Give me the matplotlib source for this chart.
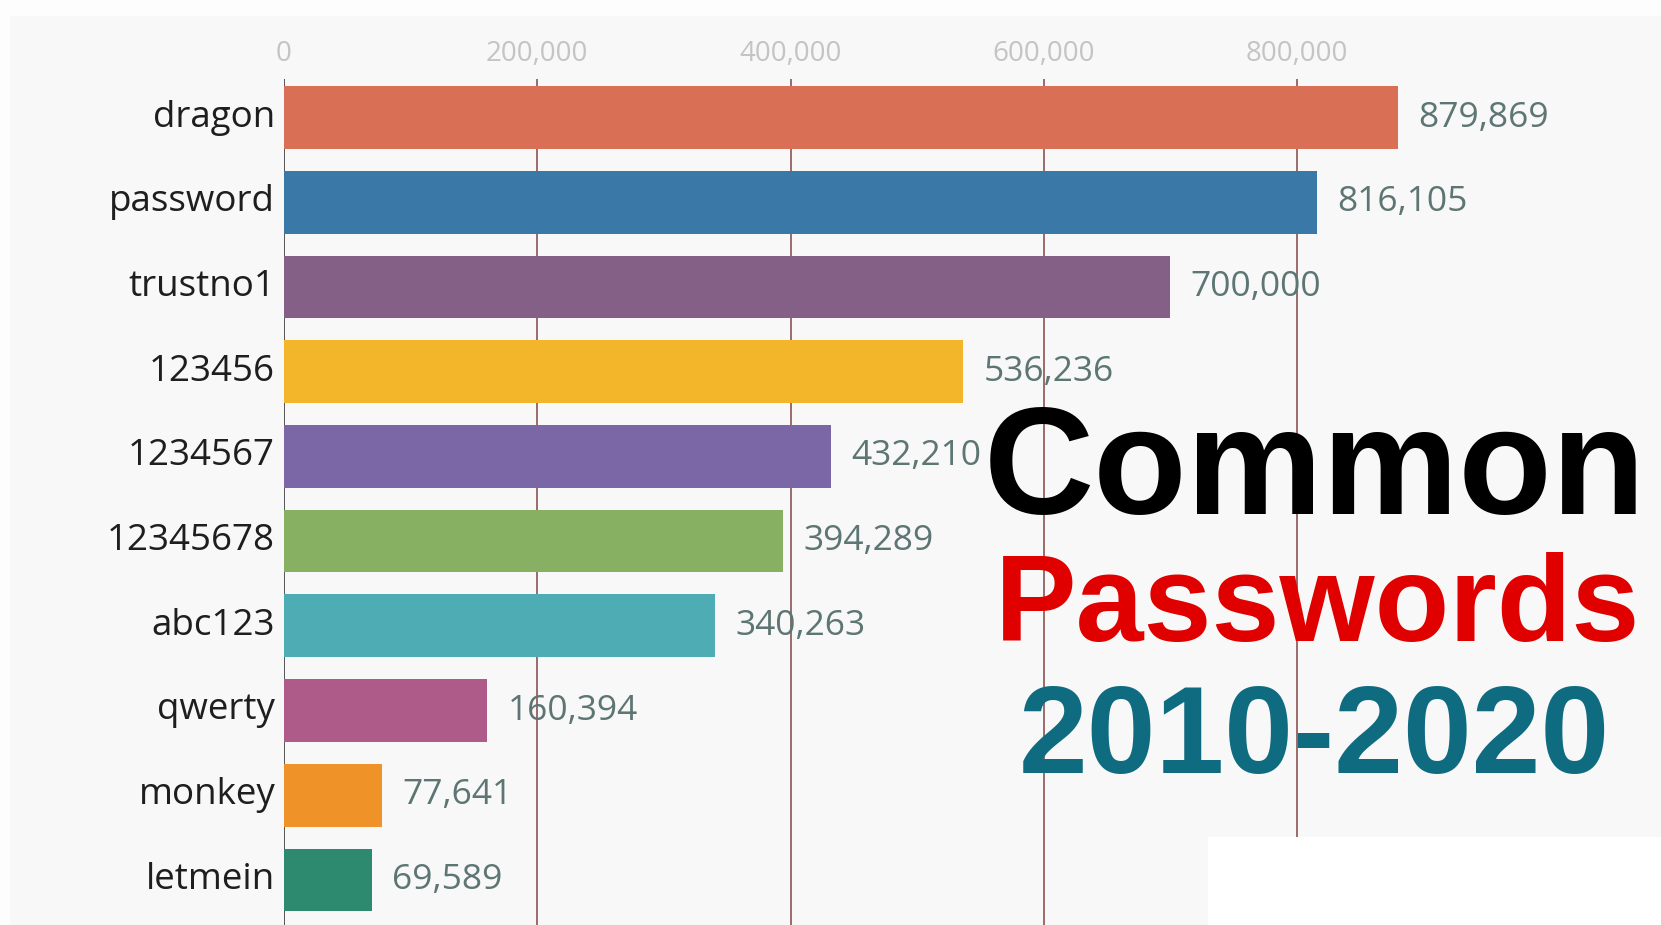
import matplotlib.pyplot as plt
from matplotlib.patches import Rectangle

# Data
passwords = ['dragon', 'password', 'trustno1', '123456', '1234567',
             '12345678', 'abc123', 'qwerty', 'monkey', 'letmein']
counts = [879869, 816105, 700000, 536236, 432210,
          394289, 340263, 160394, 77641, 69589]
bar_colors = ['#d96f55', '#3a78a8', '#845f86', '#f3b52a', '#7b66a6',
              '#88b062', '#4eacb5', '#ae5b8a', '#ef9328', '#2e8a6e']
tick_values = [0, 200000, 400000, 600000, 800000]

W, H = 1661, 925
fig = plt.figure(figsize=(W / 100, H / 100), dpi=100)
fig.patch.set_facecolor('#f8f8f8')

# faint lighter band at top and left edge
fig.patches.append(Rectangle((0, 1 - 16 / H), 1, 16 / H, transform=fig.transFigure,
                             facecolor='#fdfdfd', edgecolor='none', zorder=-1))
fig.patches.append(Rectangle((0, 0), 10 / W, 1, transform=fig.transFigure,
                             facecolor='#fdfdfd', edgecolor='none', zorder=-1))

# axes placed so that zero sits at x=284px and 800k at x=1297px
x0, px_per_unit = 284, (1297 - 284) / 800000
top_px, bot_px = 79, 925
ax = fig.add_axes([x0 / W, 1 - bot_px / H, (W - x0) / W, (bot_px - top_px) / H])
ax.set_facecolor('none')
ax.set_xlim(0, (W - x0) / px_per_unit)
row = 84.7
first = 117.6
ax.set_ylim((bot_px - first) / row, (top_px - first) / row)

for t in tick_values:
    if t == 0:
        ax.axvline(t, color='#555555', lw=1.4, zorder=1)
    else:
        ax.axvline(t, color='#9b6b6b', lw=1.4, zorder=1)
    ax.text(t, (54 - first) / row, f'{t:,}', ha='center', va='center',
            fontsize=20, color='#c4c4c4', family='Open Sans')

ypos = list(range(len(passwords)))
ax.barh(ypos, counts, height=0.74, color=bar_colors, zorder=2)

for y, name, v in zip(ypos, passwords, counts):
    ax.text(-7000, y, name, ha='right', va='center', fontsize=26.5,
            color='#1e1e1e', family='Open Sans')
    ax.text(v + 16000, y, f'{v:,}', ha='left', va='center', fontsize=25.5,
            color='#5d7573', family='Open Sans', zorder=3)

ax.set_xticks([])
ax.set_yticks([])
for s in ax.spines.values():
    s.set_visible(False)

# white block in the lower right corner
fig.patches.append(Rectangle((1208 / W, 0), 1 - 1208 / W, (H - 837) / H,
                             transform=fig.transFigure, facecolor='white',
                             edgecolor='none', zorder=5))

# big title on the right
fig.text(1315 / W, 1 - 514 / H, 'Common', ha='center', va='baseline',
         fontsize=110, fontweight='bold', color='black',
         family='Liberation Sans', zorder=6)
fig.text(1318 / W, 1 - 641 / H, 'Passwords', ha='center', va='baseline',
         fontsize=88, fontweight='bold', color='#e00000',
         family='Liberation Sans', zorder=6)
fig.text(1314 / W, 1 - 773 / H, '2010-2020', ha='center', va='baseline',
         fontsize=89, fontweight='bold', color='#0e6b80',
         family='Liberation Sans', zorder=6)

fig.savefig('out.png', dpi=100, facecolor=fig.get_facecolor())
